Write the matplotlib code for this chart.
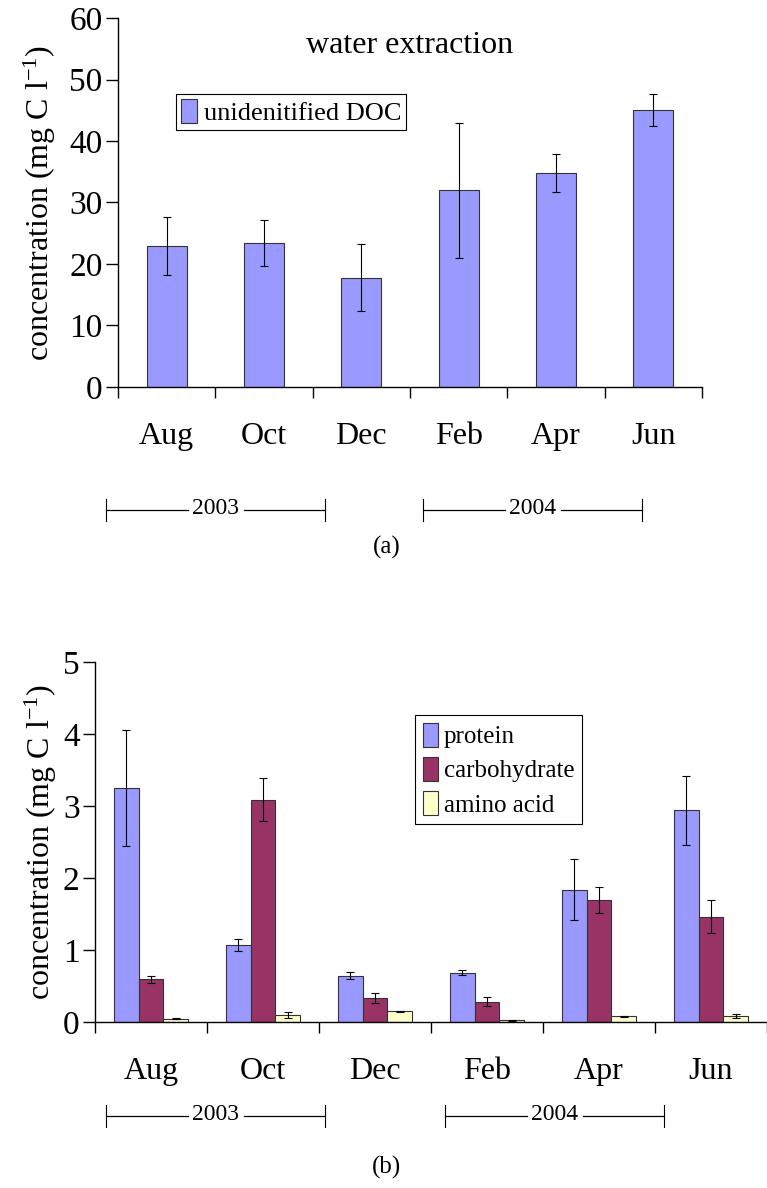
import numpy as np
import matplotlib.pyplot as plt
from matplotlib.lines import Line2D

plt.rcParams['font.family'] = ['Liberation Serif', 'DejaVu Serif']
plt.rcParams['mathtext.fontset'] = 'custom'
plt.rcParams['mathtext.rm'] = 'Liberation Serif'
plt.rcParams['mathtext.it'] = 'Liberation Serif:italic'

months = ['Aug', 'Oct', 'Dec', 'Feb', 'Apr', 'Jun']

# (a) water extraction
doc = [22.9, 23.4, 17.8, 32.0, 34.8, 45.1]
doc_err = [4.7, 3.8, 5.4, 11.0, 3.1, 2.6]

# (b) protein / carbohydrate / amino acid
protein = [3.25, 1.07, 0.645, 0.686, 1.84, 2.94]
protein_err = [0.81, 0.08, 0.05, 0.03, 0.43, 0.48]
carbo = [0.594, 3.09, 0.33, 0.283, 1.70, 1.46]
carbo_err = [0.05, 0.30, 0.07, 0.065, 0.18, 0.23]
amino = [0.046, 0.10, 0.148, 0.023, 0.08, 0.08]
amino_err = [0.01, 0.04, 0.01, 0.01, 0.01, 0.03]

W, H = 767, 1188
fig = plt.figure(figsize=(W / 100, H / 100), dpi=100)


def px_axes(x0, y0, x1, y1):
    return fig.add_axes([x0 / W, 1 - y1 / H, (x1 - x0) / W, (y1 - y0) / H])


def style_axes(ax, xmax):
    ax.spines['top'].set_visible(False)
    ax.spines['right'].set_visible(False)
    ax.spines['left'].set_linewidth(1.0)
    ax.spines['bottom'].set_linewidth(1.0)
    ax.set_xlim(-0.5, xmax)
    ax.set_xticks(np.arange(-0.5, 6.0, 1.0))
    ax.set_xticklabels([])
    ax.tick_params(axis='x', which='major', direction='out', length=8, width=1)
    ax.set_xticks(np.arange(6), minor=True)
    ax.set_xticklabels(months, minor=True, fontsize=23)
    ax.tick_params(axis='x', which='minor', length=0, pad=25)
    ax.tick_params(axis='y', direction='out', length=9, width=1, labelsize=24, pad=2)


def bracket(x0, x1, y, label):
    xm = (x0 + x1) / 2
    half = 28
    for xa, xb in [(x0, xm - half), (xm + half, x1)]:
        fig.add_artist(Line2D([xa / W, xb / W], [1 - y / H, 1 - y / H],
                              color='black', lw=0.9, transform=fig.transFigure))
    for xv in (x0, x1):
        fig.add_artist(Line2D([xv / W, xv / W], [1 - (y - 11) / H, 1 - (y + 11) / H],
                              color='black', lw=0.8, transform=fig.transFigure))
    fig.text(xm / W, 1 - (y - 1) / H, label, ha='center', va='center', fontsize=17)


x = np.arange(len(months))
ekw = dict(ecolor='black', elinewidth=0.8, capsize=3, capthick=0.8)
ylab = 'concentration (mg C l$^{\\mathrm{-1}}$)'

# ---- panel (a)
ax1 = px_axes(118, 18, 702, 387)
ax1.bar(x, doc, width=0.41, color='#9999FF', edgecolor='#333333', linewidth=0.8,
        yerr=doc_err, error_kw=ekw, label='unidenitified DOC')
ax1.set_ylim(0, 60)
ax1.set_yticks(range(0, 61, 10))
style_axes(ax1, 5.5)
ax1.set_ylabel(ylab, fontsize=23, labelpad=8)
ax1.text(0.5, 0.925, 'water extraction', transform=ax1.transAxes, ha='center',
         va='center', fontsize=23)
leg1 = ax1.legend(loc='upper left', bbox_to_anchor=(176 / W, 1 - 94 / H),
                  bbox_transform=fig.transFigure, borderaxespad=0, fontsize=19,
                  fancybox=False, edgecolor='black', framealpha=1,
                  handlelength=0.6, handleheight=1.0, handletextpad=0.25,
                  borderpad=0.2)
leg1.get_frame().set_linewidth(0.8)

bracket(106, 325, 510, '2003')
bracket(423, 642, 510, '2004')
fig.text(387 / W, 1 - 547 / H, '(a)', ha='center', va='center', fontsize=18)

# ---- panel (b)
ax2 = px_axes(95, 662, 767, 1022)
bw = 0.223
ax2.bar(x - bw, protein, width=bw, color='#9999FF', edgecolor='#333333', linewidth=0.8,
        yerr=protein_err, error_kw=ekw, label='protein')
ax2.bar(x, carbo, width=bw, color='#993366', edgecolor='#333333', linewidth=0.8,
        yerr=carbo_err, error_kw=ekw, label='carbohydrate')
ax2.bar(x + bw, amino, width=bw, color='#FFFFCC', edgecolor='#333333', linewidth=0.8,
        yerr=amino_err, error_kw=ekw, label='amino acid')
ax2.set_ylim(0, 5)
ax2.set_yticks(range(0, 6))
style_axes(ax2, 5.42)
ax2.set_ylabel(ylab, fontsize=23, labelpad=3)
leg2 = ax2.legend(loc='upper left', bbox_to_anchor=(415 / W, 1 - 715 / H),
                  bbox_transform=fig.transFigure, borderaxespad=0, fontsize=18,
                  fancybox=False, edgecolor='black', framealpha=1,
                  handlelength=0.6, handleheight=1.1, handletextpad=0.25,
                  borderpad=0.3, labelspacing=0.35)
leg2.get_frame().set_linewidth(0.8)

bracket(106, 325, 1116, '2003')
bracket(445, 664, 1116, '2004')
fig.text(387 / W, 1 - 1167 / H, '(b)', ha='center', va='center', fontsize=18)

fig.savefig('out.png', dpi=100)
